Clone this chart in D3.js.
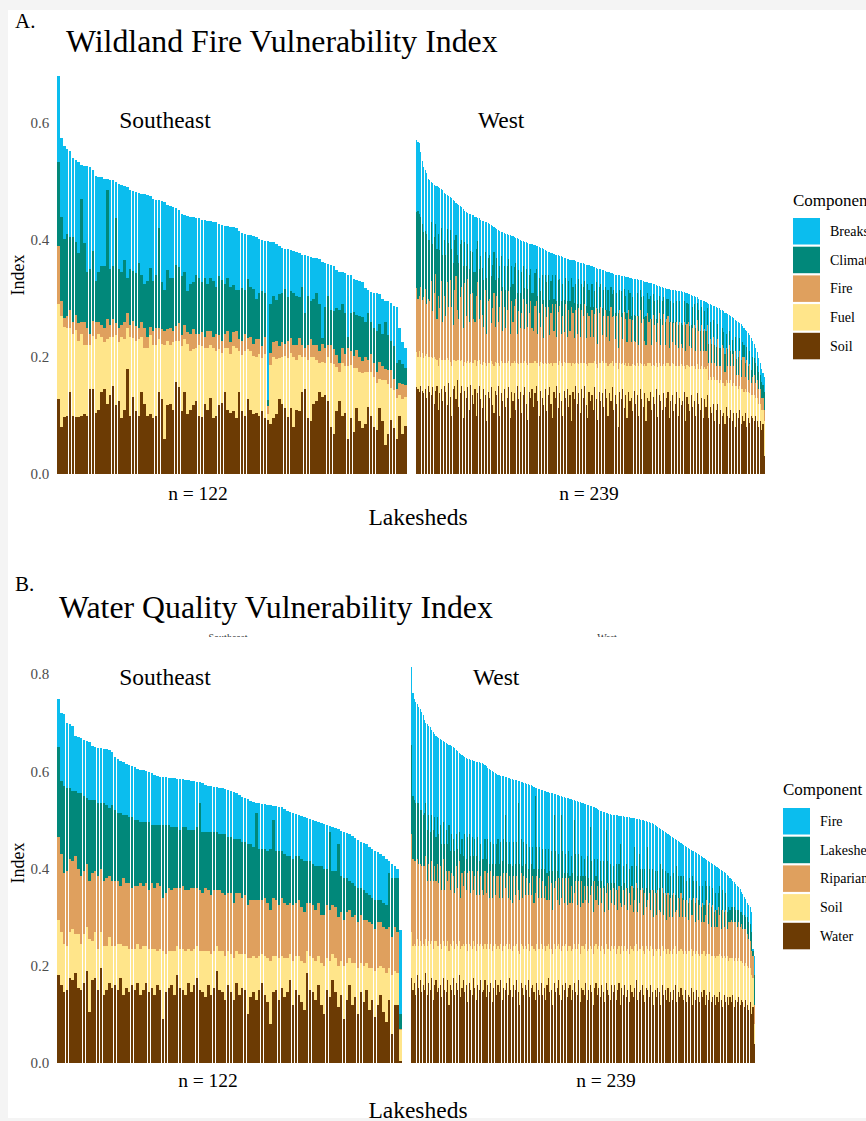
<!DOCTYPE html>
<html>
<head>
<meta charset="utf-8">
<script src="https://cdnjs.cloudflare.com/ajax/libs/d3/7.8.5/d3.min.js"></script>
<style>
	html, body { margin: 0; padding: 0; background: #f4f4f4; }
	svg { display: block; }
	text { font-family: "Liberation Serif", "Times New Roman", serif; }
</style>
</head>
<body>
<svg id="chart" width="866" height="1121"></svg>
<script>
(function() {
	'use strict';

	// values are in thousandths of the index; bars are already sorted by index
	// the top component of every bar is what is left of the index above the other four

	// ---- A. Wildland Fire Vulnerability Index ----
	var wfKeys = ['Soil', 'Fuel', 'Fire', 'Climate', 'Breaks'];

	var wfIndexSE = [
		680,574,560,556,552,540,536,534,528,527, 526,525,520,510,508,507,505,504,503,502,
		500,496,494,493,490,485,484,482,480,479, 478,477,475,470,469,468,467,465,460,458,
		457,455,452,445,442,441,440,439,438,437, 435,434,433,432,431,430,428,425,424,424,
		423,422,420,415,412,410,409,408,407,405, 401,400,399,398,397,396,394,389,386,385,
		384,383,382,380,377,375,374,372,371,370, 369,367,362,360,359,358,356,349,346,345,
		343,341,340,334,331,330,329,318,314,311, 310,309,308,299,296,295,292,287,285,250,
		226,215];
	var wfSoilSE = [
		128,80,97,100,140,100,97,98,100,102, 100,145,146,105,110,140,145,120,135,150,
		118,125,95,110,180,100,132,108,100,140, 120,100,102,95,100,140,128,60,118,120,
		110,158,148,108,140,102,110,118,125,100, 98,120,110,130,95,100,118,122,140,110,
		105,108,95,140,108,100,128,110,102,105, 100,108,95,92,86,95,102,128,120,112,
		98,112,80,110,108,140,145,95,90,120, 125,140,132,135,125,80,68,108,125,100,
		105,60,96,72,112,90,78,85,115,100, 80,75,112,90,50,68,92,78,60,100,
		68,82];
	var wfFuelSE = [
		162,190,155,150,110,140,150,130,140,118, 120,75,90,125,130,95,80,110,100,85,
		120,100,140,120,70,135,100,120,130,95, 95,115,135,125,120,90,95,160,110,100,
		115,70,80,110,90,120,100,95,90,120, 120,95,105,90,120,110,95,85,75,105,
		100,110,120,70,95,110,85,100,100,95, 105,90,110,10,100,105,95,70,80,90,
		100,95,120,85,95,60,55,100,110,80, 70,50,60,55,75,110,120,75,50,90,
		80,125,90,110,70,85,95,90,60,75, 85,80,50,70,110,85,55,65,70,35,
		60,50];
	var wfFireSE = [
		100,25,15,20,30,20,25,30,20,40, 30,20,25,30,20,20,25,35,20,30,
		20,25,20,30,25,20,30,25,20,25, 35,20,15,25,30,20,25,25,20,30,
		20,25,30,20,25,20,30,35,25,20, 25,20,30,25,20,30,25,20,25,30,
		20,25,30,20,25,30,20,25,20,30, 25,20,30,15,20,25,30,20,25,20,
		30,25,20,25,30,20,15,25,30,20, 25,20,30,25,20,30,25,20,15,25,
		20,30,25,20,30,25,20,25,20,30, 25,20,30,25,20,25,30,20,15,20,
		25,20];
	var wfClimateSE = [
		144,145,135,140,125,145,125,120,210,135, 95,110,120,70,85,100,105,220,95,90,
		180,100,90,105,60,95,85,90,110,80, 75,95,100,85,90,170,80,70,100,85,
		90,105,95,100,90,70,85,80,100,95, 85,100,80,90,95,80,100,105,85,90,
		95,80,70,85,90,75,100,85,95,70, 80,95,75,10,85,80,70,90,85,95,
		75,80,90,85,70,100,60,85,65,80, 90,80,10,70,85,60,65,80,90,75,
		70,20,65,75,60,70,75,60,80,55, 60,70,65,55,80,60,50,55,45,40,
		35,30];

	var wfIndexW = [
		571,568,565,550,535,525,520,515,505,503, 500,497,494,493,492,490,489,487,485,481,
		479,477,475,473,471,469,466,464,462,460, 458,456,453,450,448,446,445,444,443,442,
		440,439,438,437,435,433,432,431,430,429, 427,426,424,422,420,418,417,415,414,413,
		412,411,410,409,408,407,406,405,404,403, 401,400,399,398,397,396,395,394,393,393,
		392,391,390,389,388,387,386,384,383,382, 380,379,378,377,376,375,375,374,373,372,
		371,370,369,368,367,366,366,365,365,364, 363,362,361,360,360,359,358,358,357,356,
		355,354,353,352,351,350,350,349,348,347, 346,346,345,344,343,342,341,341,340,340,
		339,338,338,337,337,336,335,335,334,334, 333,333,332,331,331,330,329,329,328,327,
		327,326,325,324,323,322,321,320,319,318, 318,317,316,316,315,315,314,314,313,313,
		312,312,311,311,310,309,308,307,306,305, 304,303,302,300,298,297,296,295,294,292,
		291,290,289,288,287,285,284,283,281,280, 278,276,275,273,272,270,268,266,264,262,
		260,258,256,253,250,247,244,241,237,233, 228,222,216,208,198,190,180,172,165];
	var wfSoilW = [
		148,145,140,150,142,138,146,130,150,140, 135,148,120,142,150,110,138,145,125,150,
		140,118,155,132,100,145,150,128,160,115, 138,150,95,142,130,148,110,152,135,120,
		145,100,138,150,128,112,146,135,90,140, 130,148,118,105,142,135,150,100,138,125,
		145,115,130,148,95,140,125,138,110,150, 128,140,105,135,148,120,92,140,130,145,
		115,138,150,125,100,142,130,118,145,108, 135,148,120,95,140,130,150,112,138,125,
		100,142,130,145,115,135,90,140,128,150, 120,138,105,145,130,150,118,95,140,125,
		135,110,148,128,92,140,125,138,115,145, 130,100,138,125,148,110,135,120,80,140,
		128,145,112,135,95,140,125,130,108,142, 120,135,100,145,128,115,138,90,130,125,
		140,110,132,120,145,98,135,125,110,138, 115,130,140,95,125,135,108,120,140,100,
		130,118,125,140,90,132,120,108,135,115, 125,100,138,120,110,130,95,128,115,135,
		95,115,105,120,90,110,120,85,110,100, 105,85,115,100,95,110,90,105,80,105,
		95,110,85,100,90,105,80,95,88,100, 95,90,100,90,80,90,75,85,30];
	var wfFuelW = [
		60,55,70,50,65,60,55,75,50,60, 65,50,80,55,45,75,60,50,70,45,
		55,80,40,60,85,50,45,65,35,80, 55,45,90,50,60,45,80,40,55,70,
		50,85,55,45,60,75,45,55,95,50, 60,45,70,80,50,55,40,85,55,65,
		45,75,60,45,90,50,65,55,80,40, 60,50,85,55,45,70,95,50,60,45,
		75,55,40,65,85,50,60,70,45,80, 55,40,70,90,50,60,40,75,55,65,
		85,50,60,45,75,55,95,50,60,40, 70,50,85,45,60,40,70,90,50,65,
		55,80,45,60,90,50,65,55,75,45, 60,85,50,65,45,75,55,70,100,50,
		60,45,75,55,90,50,60,55,80,45, 65,55,85,45,60,70,50,95,60,65,
		50,75,55,65,45,85,55,60,75,50, 70,60,50,90,60,55,80,65,45,85,
		55,70,60,45,90,55,65,75,50,70, 60,80,50,60,70,55,85,55,65,50,
		65,50,55,45,70,50,40,70,50,55, 50,65,45,55,60,50,60,50,70,45,
		50,40,60,45,50,40,60,45,50,35, 40,45,30,40,40,30,35,25,60];
	var wfFireW = [
		110,100,95,120,90,105,115,85,100,95, 130,80,110,145,70,120,85,135,65,110,
		75,130,90,140,100,60,120,145,85,70, 110,125,65,135,80,140,70,115,120,75,
		65,120,135,70,110,85,60,125,55,105, 110,65,95,125,60,115,70,100,120,55,
		95,60,90,120,55,105,70,95,110,50, 90,60,85,110,55,100,65,85,105,60,
		55,95,105,50,90,60,100,45,95,80, 95,50,85,105,55,100,45,90,95,50,
		85,50,100,45,90,55,100,85,45,90, 50,95,45,90,80,100,45,90,80,45,
		90,45,80,95,40,85,95,45,80,90, 45,85,40,95,75,85,40,80,35,90,
		80,40,90,75,40,90,80,40,75,40, 40,80,35,90,70,80,40,35,85,70,
		75,35,85,70,35,75,85,35,70,85, 35,75,80,30,75,35,70,35,75,30,
		75,35,30,75,30,70,75,35,30,65, 70,30,75,65,30,70,30,65,30,70,
		30,65,30,70,30,25,70,30,25,65, 60,25,55,30,65,25,55,30,60,20,
		25,60,20,55,60,20,55,20,50,20, 30,35,25,30,25,25,20,20,20];
	var wfClimateW = [
		130,150,140,120,130,110,100,120,100,105, 100,115,95,85,120,105,100,90,115,95,
		105,90,110,85,100,105,85,70,95,95, 90,80,105,70,85,60,90,75,70,80,
		85,80,70,85,75,80,80,65,95,75, 75,80,75,70,80,65,75,70,60,75,
		70,65,75,55,80,60,65,65,60,70, 70,60,70,55,70,60,65,65,55,60,
		65,55,55,65,60,60,50,65,55,60, 55,60,55,50,55,50,60,55,45,55,
		55,55,45,60,50,50,50,45,60,45, 50,50,55,45,50,40,55,50,45,50,
		45,50,40,45,60,45,40,45,45,40, 45,45,50,35,40,45,45,40,60,35,
		45,45,40,40,50,35,45,45,40,45, 45,40,50,35,45,40,40,50,35,40,
		40,45,35,40,40,40,30,45,40,30, 40,35,30,45,35,35,35,40,35,40,
		35,35,40,35,45,35,30,35,40,35, 35,40,30,35,35,30,35,30,35,28,
		32,30,33,28,30,32,26,30,30,30, 28,30,25,28,25,25,24,26,24,26,
		30,22,30,25,20,25,22,25,22,23, 35,28,35,25,30,25,28,22,30];

	// ---- B. Water Quality Vulnerability Index ----
	var wqKeys = ['Water', 'Soil', 'Riparian', 'Lakeshed', 'Fire'];

	var wqIndexSE = [
		748,720,718,700,697,694,672,670,668,664, 662,660,652,650,648,647,646,645,644,640,
		630,626,622,618,614,612,610,608,604,603, 602,600,598,596,592,590,589,588,588,587,
		586,586,585,585,584,583,582,580,579,578, 577,575,572,570,569,568,567,566,565,563,
		562,560,558,555,552,548,545,542,538,536, 535,534,533,532,531,530,529,528,527,526,
		522,518,516,514,512,510,508,506,504,502, 500,498,496,494,492,490,488,486,484,481,
		478,476,474,470,466,462,458,455,452,450, 445,440,437,434,430,426,420,415,410,405,
		398,273];
	var wqWaterSE = [
		180,160,145,150,175,170,185,155,150,165, 190,105,170,175,150,195,140,150,165,155,
		160,150,175,140,155,145,160,150,165,140, 150,165,145,155,140,160,150,90,145,155,
		160,140,180,155,150,140,165,145,160,175, 150,145,135,160,140,155,190,150,145,130,
		160,145,130,165,140,155,150,100,135,145, 130,150,165,140,125,80,145,150,130,155,
		135,145,170,120,150,140,125,110,185,150, 145,130,160,120,100,150,135,170,145,115,
		140,90,130,160,120,135,100,145,125,150, 110,130,95,120,140,105,85,130,60,120,
		120,5];
	var wqSoilSE = [
		115,110,100,90,95,105,80,110,95,100, 90,150,80,95,85,75,100,90,95,85,
		80,95,70,100,85,90,75,85,80,95, 90,75,90,80,95,70,85,140,80,75,
		70,90,60,80,85,90,70,85,75,65, 80,85,95,70,85,75,50,80,85,90,
		70,80,85,65,85,70,75,115,80,75, 85,70,60,80,90,130,75,70,85,65,
		80,70,55,90,70,80,85,95,45,70, 70,80,60,85,100,65,75,55,70,85,
		70,110,75,55,85,70,95,60,75,55, 85,65,95,75,60,90,100,65,120,70,
		65,62];
	var wqRiparianSE = [
		170,160,145,155,150,140,160,135,140,130, 130,120,140,125,150,130,135,140,125,135,
		135,130,120,140,130,135,125,130,120,135, 125,130,120,135,125,140,130,110,125,130,
		125,130,120,125,130,125,120,130,125,120, 125,120,130,125,120,125,115,125,120,125,
		120,125,115,120,125,115,120,110,120,115, 120,115,110,120,115,105,120,115,110,120,
		115,110,105,115,110,115,110,105,100,110, 110,105,110,100,105,110,105,100,105,100,
		100,95,105,100,95,100,95,100,95,90, 95,90,85,95,90,85,90,85,80,90,
		85,3];
	var wqLakeshedSE = [
		185,150,180,170,145,145,135,155,170,155, 135,165,150,145,150,135,160,150,140,155,
		145,140,150,130,140,135,145,135,135,125, 130,125,140,120,130,120,125,150,140,130,
		130,125,125,120,120,130,125,120,120,125, 180,125,115,120,130,120,120,115,120,125,
		115,115,130,110,110,115,110,125,115,110, 180,105,105,100,105,125,160,100,110,95,
		100,100,95,95,95,90,100,105,85,85, 85,90,75,100,95,75,160,70,75,150,
		75,85,70,60,70,60,70,55,60,55, 55,55,60,45,45,50,50,110,120,100,
		110,30];

	var wqIndexW = [
		815,760,748,742,738,733,728,722,715,705, 700,697,694,690,685,680,676,672,670,668,
		666,665,663,661,659,657,655,653,651,650, 647,644,641,638,636,634,632,630,628,626,
		625,624,623,622,621,620,619,618,617,616, 615,613,610,607,605,603,600,598,596,594,
		593,592,591,590,590,589,588,587,586,585, 584,583,582,581,580,579,578,577,576,575,
		574,573,572,571,570,568,566,565,564,563, 562,561,560,559,558,557,556,555,555,554,
		553,552,551,550,549,548,547,546,545,544, 543,542,541,540,539,538,537,536,535,534,
		533,532,531,530,529,528,527,526,524,522, 520,519,518,517,516,515,514,513,512,511,
		510,510,509,509,508,508,507,507,506,506, 505,505,504,504,503,503,502,502,501,500,
		500,499,498,497,496,495,494,493,491,489, 487,485,483,481,479,477,475,473,471,469,
		467,465,463,461,459,457,455,453,451,449, 447,445,443,441,439,437,435,433,431,429,
		427,425,423,421,419,417,415,413,411,409, 407,405,403,401,399,397,395,393,390,387,
		384,381,378,375,372,369,365,361,357,352, 347,342,337,330,325,320,310,235,220];
	var wqWaterW = [
		175,150,165,140,180,155,170,145,160,150, 185,140,165,150,175,130,160,170,145,155,
		160,135,175,150,145,170,120,160,150,175, 140,165,150,180,135,155,170,145,160,125,
		165,150,140,175,155,130,160,150,170,145, 150,170,135,160,145,165,125,155,170,140,
		160,145,170,130,155,150,165,140,175,150, 135,160,150,170,145,120,165,155,140,160,
		150,170,135,155,160,145,130,165,150,140, 165,140,155,130,160,175,145,150,120,165,
		145,155,170,140,130,160,150,165,135,155, 160,130,150,165,145,140,170,125,155,150,
		140,165,130,150,160,145,120,155,165,140, 155,135,160,145,125,165,150,140,130,160,
		145,160,130,150,165,120,155,140,160,135, 150,125,160,145,135,155,170,130,145,150,
		160,140,125,155,150,135,160,145,120,150, 135,155,145,120,160,140,150,130,155,125,
		145,130,150,160,125,145,135,155,140,130, 150,125,140,135,155,120,145,130,150,135,
		125,145,135,150,120,140,130,145,125,135, 140,120,135,125,145,130,115,140,125,135,
		120,135,125,140,115,130,125,135,120,130, 125,115,130,120,110,125,100,115,40];
	var wqSoilW = [
		95,90,80,100,75,85,80,95,85,90, 70,100,85,95,75,105,90,80,95,85,
		85,100,75,90,95,80,110,85,90,75, 95,80,90,70,100,85,75,95,85,105,
		80,90,95,75,85,100,85,90,75,95, 85,75,100,85,90,80,105,85,75,95,
		80,90,75,100,85,90,80,95,70,85, 95,80,90,75,85,105,80,85,95,80,
		85,75,95,85,80,90,100,80,85,95, 80,95,85,100,80,70,90,85,105,80,
		90,85,75,95,100,80,90,80,95,85, 80,100,85,80,90,95,75,100,85,90,
		95,80,100,85,80,90,105,85,80,95, 85,95,80,90,100,80,85,95,100,80,
		90,80,95,85,75,105,85,90,80,95, 85,100,80,90,95,85,75,100,90,85,
		80,90,100,85,85,95,80,90,100,85, 95,80,90,100,80,90,85,95,80,100,
		85,95,85,80,100,85,95,80,90,95, 80,100,90,95,80,100,85,95,80,90,
		95,80,90,80,100,85,95,80,95,85, 80,95,85,95,80,90,100,80,90,85,
		90,80,90,75,95,85,85,80,90,80, 80,85,75,80,85,70,80,60,40];
	var wqRiparianW = [
		200,180,170,175,165,170,160,165,160,165, 170,135,160,130,165,140,155,125,170,130,
		160,120,170,115,155,125,165,110,150,135, 115,160,120,165,105,150,120,155,110,160,
		150,110,160,105,145,115,150,105,140,115, 110,150,115,145,105,150,110,145,100,150,
		145,105,140,110,150,120,145,105,140,100, 100,145,105,140,125,110,145,100,150,105,
		145,100,140,105,145,95,120,140,105,145, 95,140,100,135,95,140,100,135,90,115,
		140,95,135,90,110,140,90,135,95,140, 90,135,95,105,140,90,130,95,135,90,
		130,90,135,95,105,130,85,135,90,130, 85,130,90,125,85,105,135,80,125,90,
		125,85,130,80,125,105,80,125,85,130, 80,125,85,130,80,95,125,80,95,120,
		120,75,125,80,100,120,75,120,80,115, 75,120,80,90,120,75,115,70,115,75,
		110,75,115,70,90,110,70,115,70,110, 70,110,65,110,70,85,110,65,110,70,
		105,65,105,60,85,110,60,105,60,105, 60,100,60,100,80,55,100,60,100,55,
		80,75,80,75,80,75,70,75,70,75, 70,75,70,65,60,55,50,45,40];
	var wqLakeshedW = [
		184,130,125,120,115,125,110,115,105,110, 110,105,100,100,95,105,100,90,95,100,
		85,95,75,95,85,75,95,80,80,75, 85,65,80,60,90,70,60,75,65,75,
		75,75,70,70,75,80,70,70,65,65, 75,65,70,70,70,60,70,65,65,65,
		75,70,70,75,70,150,65,70,70,75, 75,70,65,70,180,75,70,65,70,65,
		70,55,75,65,60,70,200,60,60,65, 60,65,60,75,55,55,60,65,80,150,
		60,60,50,55,170,55,60,50,65,55, 55,60,60,150,55,60,55,65,50,55,
		55,50,60,50,140,50,65,45,50,55, 50,55,45,55,55,130,45,55,55,40,
		45,45,55,40,45,120,45,50,45,50, 45,50,40,40,50,110,35,50,100,45,
		40,50,50,40,110,50,40,45,55,45, 45,40,45,100,40,45,45,50,40,45,
		45,45,40,35,90,45,40,35,40,50, 35,40,35,40,30,80,35,40,35,40,
		40,30,35,35,70,30,40,35,40,35, 30,35,35,30,60,40,40,30,35,35,
		30,25,25,30,30,25,35,25,30,25, 30,30,25,35,35,35,40,10,60];

	// colours bottom to top of the stack
	var stackColors = ['#6c3b04', '#ffe58a', '#dfa05e', '#01887a', '#0bbdee'];

	var svg = d3.select('#chart');
	svg.append('rect')
		.attr('x', 8).attr('y', 10)
		.attr('width', 858).attr('height', 1108)
		.attr('fill', '#ffffff');

	function buildRows(index, parts, keys) {
		return index.map(function(total, i) {
			var row = {}, sum = 0;
			parts.forEach(function(arr, k) {
				row[keys[k]] = arr[i] / 1000;
				sum += arr[i];});
			row[keys[keys.length - 1]] = Math.max(0, total - sum) / 1000;
			return row;});
	}

	function drawFacet(g, rows, keys, f, y) {
		var x = d3.scaleBand()
			.domain(d3.range(rows.length))
			.range([f.x0, f.x1])
			.paddingInner(f.gap);
		var series = d3.stack().keys(keys)(rows);
		g.append('g')
			.attr('shape-rendering', 'crispEdges')
			.selectAll('g').data(series)
			.enter().append('g')
			.attr('fill', function(d, i) {return stackColors[i];})
			.selectAll('rect').data(function(d) {return d;})
			.enter().append('rect')
			.attr('x', function(d, i) {return x(i);})
			.attr('width', x.bandwidth())
			.attr('y', function(d) {return y(d[1]);})
			.attr('height', function(d) {return Math.max(0, y(d[0]) - y(d[1]));});
	}

	function drawPanel(p) {
		var g = svg.append('g');
		var y = d3.scaleLinear().domain([0, p.yMax]).range([p.yBase, p.yTop]);

		g.append('text').attr('x', 15).attr('y', p.letterY)
			.attr('font-size', 21).text(p.letter);
		g.append('text').attr('x', p.titleX).attr('y', p.titleY)
			.attr('font-size', 31.8).text(p.title);

		p.facets.forEach(function(f) {
			drawFacet(g, buildRows(f.index, f.parts, p.keys), p.keys, f, y);
			g.append('text').attr('x', f.x0 + 62).attr('y', p.stripY)
				.attr('font-size', 23.5).text(f.name);
			g.append('text').attr('x', f.nX).attr('y', p.nY)
				.attr('text-anchor', 'middle').attr('font-size', 19.5).text(f.nLabel);
		});

		var axis = g.append('g')
			.attr('transform', 'translate(' + p.facets[0].x0 + ',0)')
			.call(d3.axisLeft(y).tickValues(p.ticks).tickFormat(d3.format('.1f'))
				.tickSize(0).tickPadding(8));
		axis.select('.domain').remove();
		axis.selectAll('text')
			.attr('font-family', '"Liberation Serif", serif')
			.attr('font-size', 15).attr('fill', '#4d4d4d');

		g.append('text')
			.attr('transform', 'translate(24,' + p.indexY + ') rotate(-90)')
			.attr('text-anchor', 'middle').attr('font-size', 18).text('Index');
		g.append('text').attr('x', 418).attr('y', p.lakeY)
			.attr('text-anchor', 'middle').attr('font-size', 23.5).text('Lakesheds');

		// legend lists the stack from top to bottom; it runs off the right edge as in the source
		var lg = g.append('g');
		lg.append('text').attr('x', p.legendX).attr('y', p.legendTitleY)
			.attr('font-size', 17).text('Component');
		p.legendLabels.forEach(function(label, i) {
			var ky = p.legendKeyY + i * 28.7;
			lg.append('rect').attr('x', p.legendX).attr('y', ky)
				.attr('width', 27).attr('height', 26.5)
				.attr('fill', stackColors[p.keys.length - 1 - i]);
			lg.append('text').attr('x', p.legendLabelX).attr('y', ky + 18)
				.attr('font-size', 14).text(label);
		});
	}

	drawPanel({
		letter: 'A.', letterY: 28,
		title: 'Wildland Fire Vulnerability Index', titleX: 66, titleY: 52,
		keys: wfKeys,
		yMax: 0.6, yBase: 474, yTop: 123, ticks: [0, 0.2, 0.4, 0.6],
		stripY: 128, nY: 500, lakeY: 525, indexY: 275,
		legendX: 793, legendTitleY: 206, legendKeyY: 218, legendLabelX: 830,
		legendLabels: ['Breaks', 'Climate', 'Fire', 'Fuel', 'Soil'],
		facets: [
			{name: 'Southeast', nLabel: 'n = 122', x0: 57.3, x1: 406.7, nX: 198, gap: 0.14,
				index: wfIndexSE, parts: [wfSoilSE, wfFuelSE, wfFireSE, wfClimateSE]},
			{name: 'West', nLabel: 'n = 239', x0: 416, x1: 765, nX: 589, gap: 0.25,
				index: wfIndexW, parts: [wfSoilW, wfFuelW, wfFireW, wfClimateW]}]
	});

	drawPanel({
		letter: 'B.', letterY: 591,
		title: 'Water Quality Vulnerability Index', titleX: 59, titleY: 618,
		keys: wqKeys,
		yMax: 0.8, yBase: 1063, yTop: 674, ticks: [0, 0.2, 0.4, 0.6, 0.8],
		stripY: 685, nY: 1087, lakeY: 1118, indexY: 863,
		legendX: 783, legendTitleY: 795, legendKeyY: 808, legendLabelX: 820,
		legendLabels: ['Fire', 'Lakeshed', 'Riparian', 'Soil', 'Water'],
		facets: [
			{name: 'Southeast', nLabel: 'n = 122', x0: 57.3, x1: 401.7, nX: 208, gap: 0.14,
				index: wqIndexSE, parts: [wqWaterSE, wqSoilSE, wqRiparianSE, wqLakeshedSE]},
			{name: 'West', nLabel: 'n = 239', x0: 411, x1: 755, nX: 606, gap: 0.25,
				index: wqIndexW, parts: [wqWaterW, wqSoilW, wqRiparianW, wqLakeshedW]}]
	});

	// faint cut-off strip labels left over between title B and its facets
	svg.append('clipPath').attr('id', 'cut')
		.append('rect').attr('x', 0).attr('y', 630).attr('width', 866).attr('height', 7);
	var ghost = svg.append('g').attr('clip-path', 'url(#cut)')
		.attr('fill', '#333').attr('font-size', 10);
	ghost.append('text').attr('x', 228).attr('y', 641).attr('text-anchor', 'middle').text('Southeast');
	ghost.append('text').attr('x', 607).attr('y', 641).attr('text-anchor', 'middle').text('West');

	// grey page edge at the bottom
	svg.append('rect').attr('x', 0).attr('y', 1118).attr('width', 866).attr('height', 3)
		.attr('fill', '#f4f4f4');
})();
</script>
</body>
</html>
